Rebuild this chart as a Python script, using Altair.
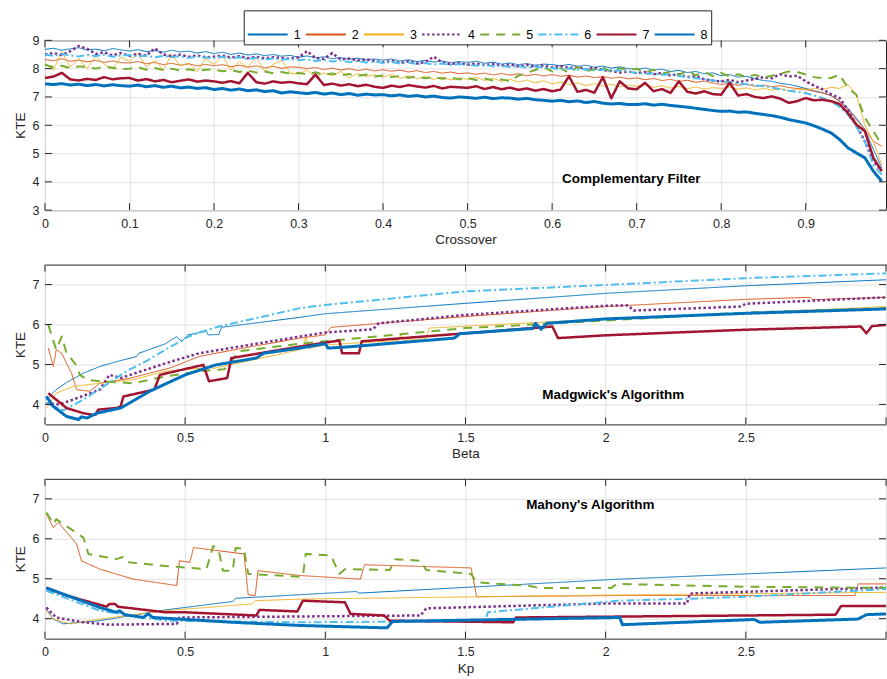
import altair as alt
import pandas as pd

SERIES = ["1", "2", "3", "4", "5", "6", "7", "8"]
COLORS = ["#0072BD", "#D95319", "#EDB120", "#7E2F8E", "#77AC30", "#4DBEEE", "#A2142F", "#0072BD"]
DASHES = [[1, 0], [1, 0], [1, 0], [2.5, 2.5], [9, 7], [8, 3, 2, 3], [1, 0], [1, 0]]
WIDTHS = [1.0, 1.0, 1.0, 2.5, 2.0, 2.0, 2.5, 3.0]

# ---------------- Panel 1: Complementary Filter (KTE vs crossover) ----------------
CROSSOVER = [round(i * 0.01, 2) for i in range(100)]
CF_1 = [8.68, 8.72, 8.65, 8.70, 8.74, 8.66, 8.69, 8.63, 8.71, 8.66,
        8.62, 8.67, 8.60, 8.64, 8.58, 8.65, 8.59, 8.62, 8.55, 8.60,
        8.53, 8.58, 8.50, 8.55, 8.48, 8.52, 8.46, 8.50, 8.44, 8.47,
        8.40, 8.45, 8.38, 8.42, 8.35, 8.39, 8.33, 8.37, 8.31, 8.34,
        8.30, 8.34, 8.27, 8.31, 8.25, 8.29, 8.23, 8.27, 8.21, 8.25,
        8.22, 8.26, 8.19, 8.23, 8.16, 8.20, 8.14, 8.18, 8.12, 8.16,
        8.14, 8.10, 8.15, 8.08, 8.12, 8.05, 8.09, 8.02, 8.06, 8.00,
        7.98, 8.02, 7.95, 7.98, 7.90, 7.94, 7.86, 7.90, 7.82, 7.85,
        7.75, 7.79, 7.70, 7.73, 7.64, 7.58, 7.55, 7.48, 7.44, 7.38,
        7.30, 7.22, 7.15, 7.05, 6.85, 6.60, 6.25, 5.85, 5.15, 4.50]
CF_2 = [8.32, 8.28, 8.35, 8.26, 8.30, 8.24, 8.29, 8.22, 8.27, 8.21,
        8.20, 8.25, 8.17, 8.22, 8.14, 8.19, 8.12, 8.17, 8.10, 8.15,
        8.10, 8.14, 8.07, 8.12, 8.05, 8.10, 8.03, 8.08, 8.01, 8.06,
        8.05, 8.00, 8.04, 7.97, 8.02, 7.95, 8.00, 7.93, 7.98, 7.92,
        7.96, 7.91, 7.95, 7.88, 7.93, 7.86, 7.90, 7.84, 7.88, 7.82,
        7.85, 7.80, 7.84, 7.78, 7.83, 7.77, 7.82, 7.75, 7.80, 7.74,
        7.79, 7.73, 7.77, 7.70, 7.74, 7.68, 7.72, 7.66, 7.70, 7.64,
        7.67, 7.61, 7.65, 7.58, 7.62, 7.55, 7.59, 7.52, 7.56, 7.49,
        7.44, 7.48, 7.41, 7.45, 7.38, 7.42, 7.36, 7.40, 7.33, 7.30,
        7.27, 7.20, 7.14, 7.05, 6.85, 6.55, 6.20, 5.85, 5.43, 5.26]
CF_3 = [8.20, 7.95, 8.60, 8.05, 8.35, 8.00, 8.45, 8.15, 7.98, 8.40,
        8.25, 8.55, 8.05, 8.30, 7.95, 8.50, 8.10, 8.20, 7.90, 8.35,
        8.15, 8.45, 7.95, 8.25, 8.05, 8.40, 7.90, 8.15, 8.30, 7.85,
        7.80, 7.95, 7.70, 7.85, 7.75, 7.90, 7.68, 7.82, 7.72, 7.78,
        7.70, 7.80, 7.66, 7.75, 7.64, 7.72, 7.62, 7.70, 7.60, 7.68,
        7.62, 7.70, 7.58, 7.66, 7.55, 7.63, 7.52, 7.60, 7.50, 7.57,
        7.46, 7.52, 7.44, 7.50, 7.40, 7.47, 7.38, 7.45, 7.36, 7.42,
        7.38, 7.44, 7.34, 7.40, 7.31, 7.37, 7.29, 7.35, 7.28, 7.33,
        7.30, 7.35, 7.27, 7.32, 7.25, 7.30, 7.24, 7.29, 7.22, 7.27,
        7.25, 7.30, 7.26, 7.34, 7.30, 7.44, 7.08, 6.00, 5.43, 4.60]
CF_4 = [8.50, 8.55, 8.48, 8.62, 8.80, 8.70, 8.52, 8.58, 8.47, 8.55,
        8.45, 8.52, 8.46, 8.72, 8.50, 8.44, 8.49, 8.42, 8.47, 8.40,
        8.42, 8.46, 8.39, 8.44, 8.37, 8.42, 8.36, 8.40, 8.38, 8.35,
        8.40, 8.62, 8.38, 8.34, 8.55, 8.32, 8.36, 8.29, 8.33, 8.27,
        8.22, 8.28, 8.20, 8.26, 8.18, 8.24, 8.42, 8.22, 8.16, 8.20,
        8.14, 8.18, 8.12, 8.16, 8.10, 8.15, 8.08, 8.13, 8.06, 8.11,
        8.04, 8.09, 8.02, 8.06, 7.98, 8.03, 7.95, 7.92, 7.86, 7.90,
        7.84, 7.88, 7.80, 7.85, 7.76, 7.80, 7.70, 7.74, 7.62, 7.58,
        7.55, 7.60, 7.52, 7.58, 7.64, 7.70, 7.66, 7.80, 7.72, 7.75,
        7.55, 7.40, 7.27, 7.10, 6.96, 6.55, 6.00, 5.43, 4.73, 4.40]
CF_5 = [8.14, 8.05, 8.10, 8.02, 8.08, 8.06, 8.00, 8.07, 8.03, 7.98,
        8.00, 8.05, 7.96, 8.02, 7.95, 8.00, 7.93, 7.98, 7.92, 7.96,
        7.97, 7.91, 7.95, 7.88, 7.93, 7.86, 7.90, 7.84, 7.88, 7.82,
        7.85, 7.80, 7.87, 7.78, 7.83, 7.76, 7.81, 7.74, 7.79, 7.72,
        7.76, 7.70, 7.74, 7.68, 7.72, 7.66, 7.70, 7.64, 7.69, 7.62,
        7.67, 7.60, 7.65, 7.58, 7.62, 7.56, 7.75, 7.85, 7.95, 8.05,
        7.90, 8.02, 7.85, 8.06, 7.92, 7.98, 8.04, 7.88, 8.02, 7.94,
        8.00, 7.86, 7.96, 7.80, 7.90, 7.78, 7.92, 7.76, 7.88, 7.74,
        7.85, 7.72, 7.80, 7.70, 7.78, 7.68, 7.75, 7.82, 7.90, 7.88,
        7.79, 7.70, 7.66, 7.67, 7.79, 7.32, 7.08, 6.26, 5.80, 5.30]
CF_6 = [8.50, 8.45, 8.52, 8.47, 8.43, 8.49, 8.44, 8.50, 8.42, 8.47,
        8.48, 8.43, 8.46, 8.40, 8.45, 8.41, 8.44, 8.38, 8.43, 8.39,
        8.38, 8.42, 8.36, 8.40, 8.34, 8.38, 8.32, 8.36, 8.31, 8.34,
        8.30, 8.33, 8.27, 8.31, 8.25, 8.29, 8.23, 8.27, 8.22, 8.25,
        8.20, 8.24, 8.18, 8.22, 8.16, 8.20, 8.14, 8.18, 8.13, 8.16,
        8.14, 8.10, 8.13, 8.08, 8.11, 8.06, 8.09, 8.04, 8.07, 8.03,
        8.02, 7.98, 8.01, 7.96, 7.99, 7.94, 7.97, 7.92, 7.94, 7.89,
        7.85, 7.82, 7.84, 7.78, 7.80, 7.74, 7.70, 7.66, 7.63, 7.58,
        7.55, 7.52, 7.48, 7.45, 7.41, 7.38, 7.33, 7.28, 7.22, 7.18,
        7.14, 7.05, 6.96, 6.85, 6.65, 6.37, 5.95, 5.43, 4.60, 4.25]
CF_7 = [7.67, 7.72, 7.85, 7.62, 7.58, 7.64, 7.60, 7.70, 7.62, 7.66,
        7.67, 7.58, 7.63, 7.55, 7.60, 7.52, 7.57, 7.62, 7.54, 7.58,
        7.55, 7.50, 7.56, 7.48, 7.85, 7.52, 7.47, 7.55, 7.50, 7.53,
        7.48, 7.45, 7.79, 7.42, 7.47, 7.40, 7.45, 7.38, 7.43, 7.36,
        7.32, 7.40, 7.35, 7.42, 7.37, 7.33, 7.39, 7.30, 7.36, 7.34,
        7.32, 7.38, 7.28, 7.35, 7.27, 7.33, 7.25, 7.30, 7.22, 7.28,
        7.20, 7.26, 7.73, 7.18, 7.25, 7.15, 7.70, 6.95, 7.55, 7.30,
        7.27, 7.50, 7.20, 7.28, 7.14, 7.55, 7.18, 7.12, 7.20, 7.10,
        7.08, 7.50, 7.05, 7.10, 7.00, 6.96, 7.02, 6.94, 6.79, 6.85,
        6.96, 6.88, 6.90, 6.85, 6.75, 6.43, 6.02, 5.79, 4.85, 4.38]
CF_8 = [7.46, 7.44, 7.47, 7.42, 7.45, 7.40, 7.44, 7.39, 7.43, 7.40,
        7.38, 7.42, 7.36, 7.40, 7.34, 7.38, 7.32, 7.35, 7.30, 7.33,
        7.26, 7.30, 7.24, 7.28, 7.22, 7.25, 7.19, 7.22, 7.14, 7.18,
        7.15, 7.12, 7.16, 7.10, 7.14, 7.08, 7.12, 7.06, 7.10, 7.07,
        7.08, 7.04, 7.07, 7.02, 7.05, 7.00, 7.03, 6.98, 6.96, 7.00,
        6.98, 6.95, 6.99, 6.94, 6.97, 6.96, 6.92, 6.95, 6.90, 6.88,
        6.85, 6.88, 6.83, 6.86, 6.80, 6.84, 6.78, 6.75, 6.77, 6.73,
        6.73, 6.76, 6.71, 6.74, 6.70, 6.67, 6.64, 6.60, 6.56, 6.52,
        6.49, 6.50, 6.46, 6.47, 6.42, 6.38, 6.34, 6.28, 6.20, 6.14,
        6.08, 5.98, 5.86, 5.73, 5.50, 5.20, 5.02, 4.85, 4.38, 4.02]

# ---------------- Panel 2: Madgwick's Algorithm (beta, KTE) ----------------
MW_1 = [(0.005, 4.12), (0.04, 4.37), (0.077, 4.55), (0.137, 4.78), (0.196, 4.95), (0.255, 5.07),
        (0.327, 5.2), (0.335, 5.28), (0.43, 5.52), (0.47, 5.7), (0.487, 5.57), (0.51, 5.74),
        (0.575, 5.83), (0.582, 5.74), (0.62, 5.75), (0.63, 5.93), (0.91, 6.18), (1.0, 6.27),
        (1.5, 6.53), (2.0, 6.78), (2.5, 6.97), (3.0, 7.12)]
MW_2 = [(0.012, 5.41), (0.03, 4.95), (0.04, 5.37), (0.06, 5.28), (0.077, 5.03), (0.095, 4.78),
        (0.113, 4.37), (0.16, 4.33), (0.196, 4.53), (0.3, 4.65), (0.45, 4.92), (0.55, 5.2),
        (0.7, 5.4), (0.91, 5.66), (1.0, 5.74), (1.02, 5.93), (1.5, 6.2), (2.0, 6.45),
        (2.5, 6.63), (2.73, 6.68), (2.74, 6.62), (3.0, 6.68)]
MW_3 = [(0.005, 3.9), (0.04, 4.28), (0.1, 4.45), (0.196, 4.53), (0.315, 4.62), (0.43, 4.83),
        (0.55, 4.9), (0.58, 4.95), (0.6, 4.9), (0.91, 5.37), (0.92, 5.45), (0.93, 5.7),
        (0.94, 5.4), (1.0, 5.49), (1.26, 5.6), (1.27, 5.75), (1.28, 5.6), (1.36, 5.65),
        (1.37, 5.91), (2.0, 6.14), (2.5, 6.28), (3.0, 6.45)]
MW_4 = [(0.005, 4.03), (0.05, 4.0), (0.1, 4.12), (0.196, 4.37), (0.23, 4.74), (0.27, 4.66),
        (0.43, 5.03), (0.55, 5.28), (0.91, 5.7), (1.0, 5.8), (1.17, 5.88), (1.19, 6.03),
        (1.5, 6.24), (2.0, 6.47), (2.08, 6.48), (2.1, 6.35), (2.48, 6.45), (2.5, 6.52),
        (3.0, 6.68)]
MW_5 = [(0.012, 5.99), (0.04, 5.37), (0.06, 5.7), (0.077, 5.28), (0.107, 5.03), (0.125, 4.74),
        (0.15, 4.62), (0.196, 4.58), (0.315, 4.53), (0.43, 4.7), (0.55, 4.83), (0.64, 4.88),
        (0.66, 5.03), (0.69, 5.33), (0.91, 5.52), (1.0, 5.58), (1.5, 5.91), (2.0, 6.1),
        (2.5, 6.3), (3.0, 6.41)]
MW_6 = [(0.005, 4.05), (0.03, 3.95), (0.065, 3.85), (0.137, 4.12), (0.22, 4.5), (0.29, 4.83),
        (0.36, 5.08), (0.43, 5.37), (0.47, 5.53), (0.5, 5.66), (0.55, 5.8), (0.62, 5.95),
        (0.91, 6.41), (1.0, 6.49), (1.5, 6.83), (2.0, 6.99), (2.5, 7.16), (3.0, 7.28)]
MW_7 = [(0.012, 4.28), (0.04, 4.12), (0.077, 3.91), (0.137, 3.78), (0.17, 3.74), (0.18, 3.74),
        (0.19, 3.87), (0.255, 3.91), (0.27, 3.95), (0.28, 4.2), (0.39, 4.37), (0.41, 4.74),
        (0.565, 4.99), (0.585, 4.58), (0.65, 4.66), (0.665, 5.16), (0.91, 5.45), (1.05, 5.6),
        (1.06, 5.28), (1.12, 5.28), (1.13, 5.58), (1.5, 5.78), (1.81, 5.95), (1.83, 5.66),
        (2.0, 5.73), (2.5, 5.87), (2.91, 5.95), (2.93, 5.78), (2.95, 5.96), (3.0, 5.99)]
MW_8 = [(0.005, 4.2), (0.03, 3.95), (0.077, 3.7), (0.12, 3.62), (0.13, 3.69), (0.15, 3.66),
        (0.185, 3.78), (0.27, 3.91), (0.374, 4.33), (0.5, 4.74), (0.61, 4.99), (0.754, 5.16),
        (0.78, 5.28), (0.91, 5.41), (1.0, 5.52), (1.01, 5.41), (1.1, 5.45), (1.46, 5.66),
        (1.48, 5.77), (1.74, 5.9), (1.75, 6.03), (1.77, 5.88), (1.79, 6.03), (2.0, 6.14),
        (2.5, 6.28), (3.0, 6.39)]

# ---------------- Panel 3: Mahony's Algorithm (Kp, KTE) ----------------
MH_1 = [(0.005, 4.24), (0.03, 3.99), (0.065, 3.87), (0.196, 3.95), (0.43, 4.22), (0.67, 4.43),
        (0.68, 4.51), (0.91, 4.6), (1.11, 4.68), (1.12, 4.64), (2.05, 4.99), (2.5, 5.12),
        (3.0, 5.27)]
MH_2 = [(0.005, 6.62), (0.03, 6.28), (0.048, 6.41), (0.113, 5.87), (0.13, 5.45), (0.196, 5.24),
        (0.315, 4.99), (0.47, 4.83), (0.48, 5.45), (0.517, 5.41), (0.53, 5.78), (0.71, 5.62),
        (0.725, 4.6), (0.75, 4.58), (0.76, 5.2), (0.91, 5.08), (1.125, 4.99), (1.14, 5.35),
        (1.52, 5.27), (1.54, 4.55), (2.05, 4.58), (2.89, 4.58), (2.9, 4.87), (3.0, 4.87)]
MH_3 = [(0.005, 4.2), (0.03, 3.99), (0.09, 3.87), (0.196, 3.99), (0.43, 4.2), (0.74, 4.37),
        (0.75, 4.45), (0.91, 4.49), (2.0, 4.59), (3.0, 4.66)]
MH_4 = [(0.005, 4.28), (0.04, 4.03), (0.137, 3.91), (0.23, 3.85), (0.47, 3.87), (0.48, 4.03),
        (1.34, 4.08), (1.36, 4.26), (2.0, 4.38), (2.29, 4.38), (2.3, 4.63), (3.0, 4.78)]
MH_5 = [(0.005, 6.66), (0.03, 6.37), (0.04, 6.49), (0.137, 6.03), (0.155, 5.62), (0.255, 5.49),
        (0.28, 5.55), (0.3, 5.41), (0.43, 5.32), (0.576, 5.24), (0.6, 5.82), (0.62, 5.7),
        (0.635, 5.2), (0.67, 5.2), (0.68, 5.77), (0.71, 5.75), (0.725, 5.12), (0.91, 5.05),
        (0.92, 5.06), (0.93, 5.62), (1.02, 5.58), (1.05, 5.12), (1.07, 5.24), (1.23, 5.22),
        (1.25, 5.49), (1.34, 5.45), (1.36, 5.22), (1.52, 5.12), (1.54, 4.91), (1.73, 4.82),
        (1.76, 4.77), (2.02, 4.77), (2.04, 4.87), (2.5, 4.8), (3.0, 4.77)]
MH_6 = [(0.005, 4.7), (0.196, 4.2), (0.43, 3.95), (0.91, 3.91), (1.57, 3.94), (1.58, 4.16),
        (2.05, 4.45), (2.3, 4.5), (2.5, 4.55), (3.0, 4.74)]
MH_7 = [(0.005, 4.77), (0.077, 4.58), (0.22, 4.3), (0.23, 4.37), (0.25, 4.37), (0.26, 4.3),
        (0.43, 4.16), (0.5, 4.16), (0.754, 4.08), (0.765, 4.22), (0.9, 4.18), (0.92, 4.45),
        (1.07, 4.41), (1.09, 4.12), (1.21, 4.08), (1.23, 3.95), (1.67, 3.91), (1.68, 4.03),
        (2.82, 4.1), (2.84, 4.32), (3.0, 4.32)]
MH_8 = [(0.005, 4.77), (0.196, 4.28), (0.255, 4.16), (0.265, 4.2), (0.285, 4.1), (0.35, 4.03),
        (0.368, 4.12), (0.385, 4.03), (0.67, 3.91), (0.91, 3.83), (1.22, 3.77), (1.24, 3.93),
        (2.05, 4.03), (2.06, 3.85), (2.53, 3.98), (2.55, 3.91), (2.9, 3.99), (2.93, 4.1),
        (3.0, 4.12)]

CF_TICKS_X = [0, 0.1, 0.2, 0.3, 0.4, 0.5, 0.6, 0.7, 0.8, 0.9]
CF_TICKS_Y = [3, 4, 5, 6, 7, 8, 9]
AL_TICKS_X = [0, 0.5, 1, 1.5, 2, 2.5, 3]
AL_TICKS_Y = [4, 5, 6, 7]

W = 842
FONT = "Liberation Sans"
AX = "#262626"
TL = 7


def frame_from_lists(xs, series_lists):
    rows = []
    for s, w, vals in zip(SERIES, WIDTHS, series_lists):
        for x, v in zip(xs, vals):
            rows.append({"x": x, "kte": v, "series": s, "lw": w})
    return pd.DataFrame(rows)


def frame_from_pairs(series_pairs):
    rows = []
    for s, w, pairs in zip(SERIES, WIDTHS, series_pairs):
        for x, v in pairs:
            rows.append({"x": x, "kte": v, "series": s, "lw": w})
    return pd.DataFrame(rows)


def panel(df, xdom, ydom, xticks, yticks, xtitle, note, note_xy, h):
    xs = alt.Scale(domain=xdom, nice=False, zero=False)
    ys = alt.Scale(domain=ydom, nice=False, zero=False)
    xax = alt.Axis(values=xticks, format="~g", grid=True, labelFlush=False,
                   labelOverlap=False, labelPadding=7, titlePadding=3,
                   labelExpr="datum.value == 3 ? '' : datum.label")
    yax = alt.Axis(values=yticks, format="~g", grid=True, labelFlush=False,
                   labelOverlap=False, labelPadding=6, titlePadding=5)
    lines = alt.Chart(df).mark_line(clip=True, strokeJoin="round").encode(
        x=alt.X("x:Q", scale=xs, title=xtitle, axis=xax),
        y=alt.Y("kte:Q", scale=ys, title="KTE", axis=yax),
        color=alt.Color("series:N", scale=alt.Scale(domain=SERIES, range=COLORS),
                        legend=alt.Legend(title=None, orient="none", legendX=199, legendY=-30,
                                          direction="horizontal", columns=8,
                                          symbolType="stroke", symbolSize=1600,
                                          symbolStrokeWidth=2, labelOffset=5,
                                          labelFont=FONT, labelFontSize=12.5, labelColor="#000",
                                          strokeColor=AX, fillColor="white", padding=3,
                                          columnPadding=1.2)),
        strokeDash=alt.StrokeDash("series:N", scale=alt.Scale(domain=SERIES, range=DASHES)),
        strokeWidth=alt.StrokeWidth("lw:Q", scale=None),
    )
    xt = pd.DataFrame({"t": xticks})
    yt = pd.DataFrame({"t": yticks})
    bot = alt.Chart(xt).mark_rule(color=AX, strokeWidth=1).encode(
        x=alt.X("t:Q", scale=xs, title=xtitle, axis=xax), y=alt.value(h), y2=alt.value(h - TL))
    top = alt.Chart(xt).mark_rule(color=AX, strokeWidth=1).encode(
        x=alt.X("t:Q", scale=xs, title=xtitle, axis=xax), y=alt.value(0), y2=alt.value(TL))
    lft = alt.Chart(yt).mark_rule(color=AX, strokeWidth=1).encode(
        y=alt.Y("t:Q", scale=ys, title="KTE", axis=yax), x=alt.value(0), x2=alt.value(TL))
    rgt = alt.Chart(yt).mark_rule(color=AX, strokeWidth=1).encode(
        y=alt.Y("t:Q", scale=ys, title="KTE", axis=yax), x=alt.value(W), x2=alt.value(W - TL))
    txt = alt.Chart(pd.DataFrame({"label": [note]})).mark_text(
        font=FONT, fontWeight="bold", fontSize=13.5, color="#000", align="center",
        baseline="middle").encode(text="label:N", x=alt.value(note_xy[0]), y=alt.value(note_xy[1]))
    return alt.layer(lines, bot, top, lft, rgt, txt).properties(width=W, height=h)


cf_df = frame_from_lists(CROSSOVER, [CF_1, CF_2, CF_3, CF_4, CF_5, CF_6, CF_7, CF_8])
mw_df = frame_from_pairs([MW_1, MW_2, MW_3, MW_4, MW_5, MW_6, MW_7, MW_8])
mh_df = frame_from_pairs([MH_1, MH_2, MH_3, MH_4, MH_5, MH_6, MH_7, MH_8])

p1 = panel(cf_df, [0, 0.995], [3, 9], CF_TICKS_X, CF_TICKS_Y, "Crossover",
           "Complementary Filter", (587, 139), 170)
p2 = panel(mw_df, [0, 3], [3.5, 7.5], AL_TICKS_X, AL_TICKS_Y, "Beta",
           "Madgwick's Algorithm", (569, 131), 160)
p3 = panel(mh_df, [0, 3], [3.5, 7.5], AL_TICKS_X, AL_TICKS_Y, "Kp",
           "Mahony's Algorithm", (546, 26), 160)

chart = alt.vconcat(p1, p2, p3, spacing=54.5, bounds="flush").resolve_scale(
    x="independent", y="independent"
).properties(
    padding={"left": 12, "top": 9, "right": 0, "bottom": 0},
    background="white",
).configure_view(
    stroke=AX, strokeWidth=1
).configure_axis(
    labelFont=FONT, labelFontSize=12.5, labelColor=AX,
    titleFont=FONT, titleFontSize=13.5, titleFontWeight="normal", titleColor=AX,
    gridColor="#e2e2e2", gridWidth=1, domain=False, ticks=False,
)

chart.save("out.html", embed_options={"renderer": "svg", "actions": False})
